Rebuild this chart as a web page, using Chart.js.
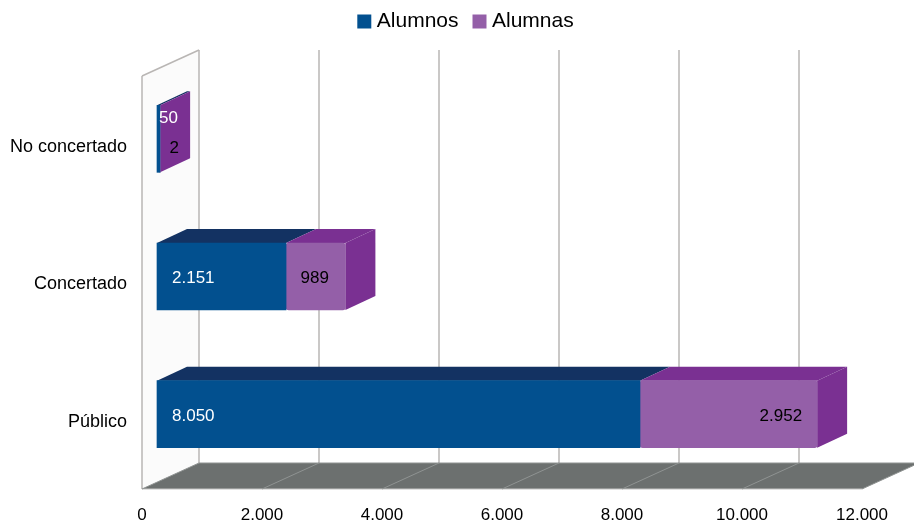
<!DOCTYPE html>
<html>
<head>
<meta charset="utf-8">
<title>Alumnos y alumnas</title>
<script src="https://cdn.jsdelivr.net/npm/chart.js@4/dist/chart.umd.min.js"></script>
<style>
    html, body { margin: 0; padding: 0; background: #fff; }
    #wrap { width: 914px; height: 523px; }
</style>
</head>
<body>
<div id="wrap"><canvas id="myChart"></canvas></div>
<script>
const categories = ['No concertado', 'Concertado', 'Público'];
const alumnos = [50, 2151, 8050];
const alumnas = [2, 989, 2952];
const tickLabels = ['0', '2.000', '4.000', '6.000', '8.000', '10.000', '12.000'];

const BLUE = '#02508f', BLUE_DARK = '#133262';
const PURPLE = '#945fa8', PURPLE_DARK = '#7a3092';
const FONT = '"Liberation Sans", Arial, sans-serif';

// profundidad del "3D"
const WALL_X = 57, WALL_Y = -26;
const BAR_SHIFT_X = 15, BAR_SHIFT_Y = -8;
const BAR_X = 30, BAR_Y = -14;

function fmt(v) {
    return String(v).replace(/\B(?=(\d{3})+$)/g, '.');
}

function poly(ctx, color, pts) {
    ctx.fillStyle = color;
    ctx.beginPath();
    pts.forEach((p, i) => i ? ctx.lineTo(p[0], p[1]) : ctx.moveTo(p[0], p[1]));
    ctx.closePath();
    ctx.fill();
}

function line(ctx, color, w, x1, y1, x2, y2) {
    ctx.strokeStyle = color;
    ctx.lineWidth = w;
    ctx.beginPath();
    ctx.moveTo(x1, y1);
    ctx.lineTo(x2, y2);
    ctx.stroke();
}

// paredes, suelo y caras laterales de las barras
const box3d = {
    id: 'box3d',
    beforeDatasetsDraw(chart) {
        const ctx = chart.ctx, xs = chart.scales.x, area = chart.chartArea;
        const floorY = area.bottom - 2;
        const topY = area.top - 2;
        const x0 = xs.getPixelForValue(0), xEnd = xs.getPixelForValue(12000);

        ctx.save();
        poly(ctx, '#fbfbfb', [[x0, topY], [x0 + WALL_X, topY + WALL_Y], [x0 + WALL_X, floorY + WALL_Y], [x0, floorY]]);
        xs.ticks.forEach(t => {
            const x = xs.getPixelForValue(t.value) + WALL_X;
            line(ctx, '#b9b6b4', 1.5, x, topY + WALL_Y, x, floorY + WALL_Y);
        });
        line(ctx, '#b9b6b4', 1.5, x0, topY, x0, floorY);
        line(ctx, '#b9b6b4', 1.5, x0, topY, x0 + WALL_X, topY + WALL_Y);

        poly(ctx, '#6c706f', [[x0, floorY], [x0 + WALL_X, floorY + WALL_Y], [xEnd + WALL_X, floorY + WALL_Y], [xEnd, floorY]]);
        line(ctx, '#c4c4c4', 1, x0, floorY, xEnd, floorY);
        line(ctx, '#8f9392', 1, x0 + WALL_X, floorY + WALL_Y, xEnd + WALL_X, floorY + WALL_Y);
        xs.ticks.forEach(t => {
            const x = xs.getPixelForValue(t.value);
            line(ctx, '#8f9392', 1, x, floorY, x + WALL_X, floorY + WALL_Y);
        });
        ctx.restore();

        // las barras se dibujan desplazadas hacia el fondo
        ctx.save();
        ctx.translate(BAR_SHIFT_X, BAR_SHIFT_Y);

        const last = chart.getDatasetMeta(chart.data.datasets.length - 1).data;
        chart.data.datasets.forEach((ds, d) => {
            const dark = d === 0 ? BLUE_DARK : PURPLE_DARK;
            chart.getDatasetMeta(d).data.forEach(bar => {
                const p = bar.getProps(['x', 'y', 'base', 'height']);
                const top = p.y - p.height / 2;
                poly(ctx, dark, [[p.base, top], [p.base + BAR_X, top + BAR_Y], [p.x + BAR_X, top + BAR_Y], [p.x, top]]);
            });
        });
        last.forEach(bar => {
            const p = bar.getProps(['x', 'y', 'height']);
            const top = p.y - p.height / 2, bottom = p.y + p.height / 2;
            poly(ctx, PURPLE_DARK, [[p.x, top], [p.x + BAR_X, top + BAR_Y], [p.x + BAR_X, bottom + BAR_Y], [p.x, bottom]]);
        });
    },
    afterDatasetsDraw(chart) {
        const ctx = chart.ctx;
        ctx.font = '17px ' + FONT;
        ctx.textBaseline = 'middle';

        // etiquetas de valor
        chart.data.datasets.forEach((ds, d) => {
            chart.getDatasetMeta(d).data.forEach((bar, i) => {
                const p = bar.getProps(['x', 'y', 'base']);
                let x = p.base + 15, y = p.y + 2, align = 'left';
                ctx.fillStyle = d === 0 ? '#fff' : '#000';
                if (d === 1) {
                    x = p.x - 15;
                    align = 'right';
                    if (i === 1) { x = (p.base + p.x) / 2 - 1; align = 'center'; }
                    if (i === 0) { x = p.x + 14; y = p.y + 9; align = 'center'; }
                } else if (i === 0) {
                    x = p.base + 2;
                    y = p.y - 21;
                }
                ctx.textAlign = align;
                ctx.fillText(fmt(ds.data[i]), x, y);
            });
        });
        ctx.restore();
    }
};

new Chart('myChart', {
    type: 'bar',
    data: {
        labels: categories,
        datasets: [
            { label: 'Alumnos', data: alumnos, backgroundColor: BLUE, borderRadius: 3, borderSkipped: false, barThickness: 67 },
            { label: 'Alumnas', data: alumnas, backgroundColor: PURPLE, borderRadius: 3, borderSkipped: false, barThickness: 67 }
        ]
    },
    options: {
        indexAxis: 'y',
        responsive: true,
        maintainAspectRatio: false,
        animation: false,
        clip: false,
        layout: { padding: { top: -8, right: -22 } },
        plugins: {
            tooltip: { enabled: false },
            legend: {
                position: 'top',
                labels: {
                    usePointStyle: true,
                    pointStyle: 'rect',
                    boxWidth: 4,
                    boxHeight: 14,
                    padding: 19,
                    color: '#000',
                    font: { family: FONT, size: 21 }
                }
            }
        },
        scales: {
            x: {
                stacked: true,
                min: 0,
                max: 12000,
                grid: { display: false },
                border: { display: false },
                afterFit(s) { s.height = 32; },
                ticks: {
                    stepSize: 2000,
                    maxRotation: 0,
                    padding: 6,
                    color: '#000',
                    font: { family: FONT, size: 17 },
                    callback: (v, i) => tickLabels[i]
                }
            },
            y: {
                stacked: true,
                grid: { display: false },
                border: { display: false },
                afterFit(s) { s.width = 142; },
                ticks: {
                    padding: 7,
                    color: '#000',
                    font: { family: FONT, size: 18 }
                }
            },
            // ejes vacíos: solo reservan el margen
            x2: {
                type: 'linear',
                position: 'top',
                grid: { display: false },
                border: { display: false },
                ticks: { display: false },
                afterFit(s) { s.height = 36; }
            },
            y2: {
                type: 'linear',
                position: 'right',
                grid: { display: false },
                border: { display: false },
                ticks: { display: false },
                afterFit(s) { s.width = 74; }
            }
        }
    },
    plugins: [box3d]
});
</script>
</body>
</html>
